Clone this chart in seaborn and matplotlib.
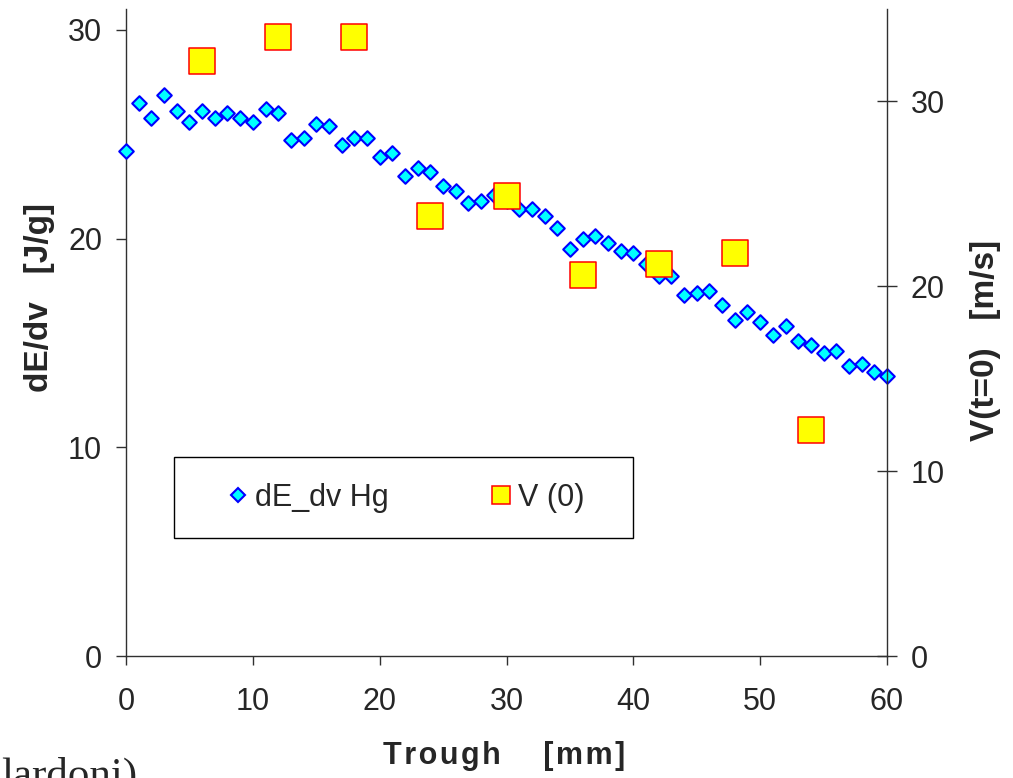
import matplotlib
matplotlib.use("Agg")
import matplotlib.pyplot as plt
from matplotlib.lines import Line2D
from matplotlib.patches import Rectangle
import seaborn as sns

# dE/dv for Hg along the trough (left axis)
trough_mm = list(range(61))
de_dv_hg = [24.2, 26.5, 25.8, 26.9, 26.1, 25.6, 26.1, 25.8, 26.0, 25.8,
            25.6, 26.2, 26.0, 24.7, 24.8, 25.5, 25.4, 24.5, 24.8, 24.8,
            23.9, 24.1, 23.0, 23.4, 23.2, 22.5, 22.3, 21.7, 21.8, 22.1,
            21.8, 21.4, 21.4, 21.1, 20.5, 19.5, 20.0, 20.1, 19.8, 19.4,
            19.3, 18.8, 18.2, 18.2, 17.3, 17.4, 17.5, 16.8, 16.1, 16.5,
            16.0, 15.4, 15.8, 15.1, 14.9, 14.5, 14.6, 13.9, 14.0, 13.6, 13.4]

# initial velocity V(t=0) at selected trough positions (right axis)
v0_trough_mm = [6, 12, 18, 24, 30, 36, 42, 48, 54]
v0_ms = [32.2, 33.5, 33.5, 23.8, 24.9, 20.6, 21.2, 21.8, 12.2]

x_ticks = [0, 10, 20, 30, 40, 50, 60]
left_ticks = [0, 10, 20, 30]
right_ticks = [0, 10, 20, 30]

sns.set_style("ticks")
plt.rcParams["font.family"] = ["Liberation Sans", "DejaVu Sans"]

W, H = 1013, 778
fig = plt.figure(figsize=(W / 100, H / 100), dpi=100)
ax = fig.add_axes([126 / W, 122 / H, (887 - 126) / W, (656 - 9) / H])
ax2 = ax.twinx()

diamond_face, diamond_edge = "#00FFFF", "#0000FF"
square_face, square_edge = "#FFFF00", "#FF0000"

sns.scatterplot(x=trough_mm, y=de_dv_hg, ax=ax, marker="D", s=55,
                color=diamond_face, edgecolor=diamond_edge, linewidth=1.5,
                legend=False, clip_on=False, zorder=3)
sns.scatterplot(x=v0_trough_mm, y=v0_ms, ax=ax2, marker="s", s=338,
                color=square_face, edgecolor=square_edge, linewidth=1.1,
                legend=False, clip_on=False, zorder=3)

ax.set_xlim(0, 60)
ax.set_ylim(0, 31)
ax2.set_ylim(0, 35)
ax.set_xticks(x_ticks)
ax.set_yticks(left_ticks)
ax2.set_yticks(right_ticks)

spine_c = "#303030"
for a in (ax, ax2):
    a.spines["top"].set_visible(False)
    for s in a.spines.values():
        s.set_color(spine_c)
        s.set_linewidth(1.0)
ax.spines["right"].set_visible(False)
ax2.spines["left"].set_visible(False)
ax2.spines["bottom"].set_visible(False)

tick_fs = 22
ax.tick_params(axis="y", direction="out", length=7.2, width=1, pad=10,
               labelsize=tick_fs, color=spine_c)
ax.tick_params(axis="x", direction="out", length=6.5, width=1, pad=16,
               labelsize=tick_fs, color=spine_c)
ax2.tick_params(axis="y", direction="inout", length=14.4, width=1, pad=10,
                labelsize=tick_fs, color=spine_c)

hs = "\u200a"
ax.set_xlabel(f"T{hs}r{hs}o{hs}u{hs}g{hs}h     [{hs}m{hs}m{hs}]",
              fontsize=22, fontweight="bold")
ax.xaxis.label.set_va("baseline")
ax.xaxis.set_label_coords((504 - 126) / 761, (656 - 764) / 647)

ax.set_ylabel("dE/dv   [J/g]", fontsize=24, fontweight="bold", va="center")
ax.yaxis.set_label_coords((40 - 126) / 761, (656 - 298) / 647)
ax2.set_ylabel("V(t=0)   [m/s]", fontsize=24, fontweight="bold", va="center",
               rotation=90)
ax2.yaxis.set_label_coords((985 - 126) / 761, (656 - 340) / 647)

# legend with a plain rectangular frame
h1 = Line2D([], [], ls="none", marker="D", ms=7.4, mfc=diamond_face,
            mec=diamond_edge, mew=1.5)
h2 = Line2D([], [], ls="none", marker="s", ms=12.6, mfc=square_face,
            mec=square_edge, mew=1.1)
fig.legend([h1, h2], ["dE_dv Hg", "V (0)"], ncol=2, frameon=False,
           loc="center", bbox_to_anchor=(405 / W, 1 - 498 / H),
           handlelength=0.8, handletextpad=0.15, columnspacing=3.3,
           fontsize=22)
fig.add_artist(Rectangle((174 / W, (H - 538) / H), 459 / W, 81 / H,
                         transform=fig.transFigure, fill=False,
                         edgecolor="black", linewidth=1.0))

fig.text(1 / W, -9 / H, "lardoni)", family="Liberation Serif", fontsize=31,
         ha="left", va="baseline")

fig.savefig("out.png", dpi=100)
